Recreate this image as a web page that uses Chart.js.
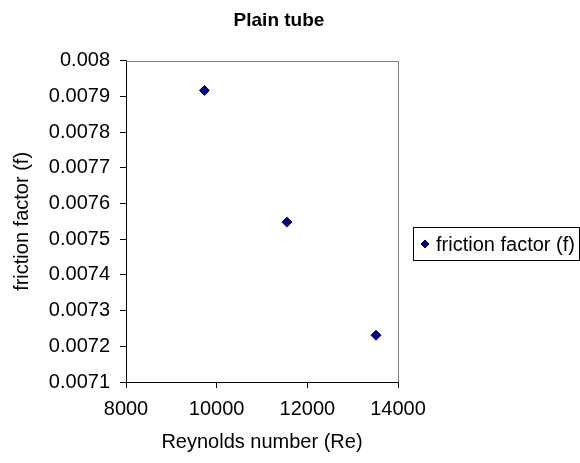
<!DOCTYPE html>
<html>
<head>
<meta charset="utf-8">
<script src="https://cdn.jsdelivr.net/npm/chart.js@4/dist/chart.umd.min.js"></script>
<style>
  html, body { margin: 0; padding: 0; background: #ffffff; }
  #wrap { width: 580px; height: 463px; }
</style>
</head>
<body>
<div id="wrap"><canvas id="c" width="580" height="463"></canvas></div>
<script>
// ---- data ----
const chartTitle = 'Plain tube';
const seriesLabel = 'friction factor (f)';
const xAxisTitle = 'Reynolds number (Re)';
const yAxisTitle = 'friction factor (f)';
const reynolds = [9730, 11550, 13515];
const frictionFactor = [0.007917, 0.007548, 0.007231];
const xTickValues = [8000, 10000, 12000, 14000];
const xTickLabels = ['8000', '10000', '12000', '14000'];
const yTickValues = [0.0071, 0.0072, 0.0073, 0.0074, 0.0075, 0.0076, 0.0077, 0.0078, 0.0079, 0.008];
const yTickLabels = ['0.0071', '0.0072', '0.0073', '0.0074', '0.0075', '0.0076', '0.0077', '0.0078', '0.0079', '0.008'];

const FONT = '"Liberation Sans", Arial, sans-serif';
const NAVY = '#000080';

const points = reynolds.map((x, i) => ({ x: x, y: frictionFactor[i] }));

const framePlugin = {
  id: 'frame',
  beforeDatasetsDraw(chart) {
    const { ctx, chartArea: a } = chart;
    ctx.save();
    ctx.strokeStyle = '#808080';
    ctx.lineWidth = 1;
    ctx.beginPath();
    ctx.moveTo(a.left, Math.round(a.top) + 0.5);
    ctx.lineTo(Math.round(a.right) + 0.5, Math.round(a.top) + 0.5);
    ctx.lineTo(Math.round(a.right) + 0.5, a.bottom);
    ctx.stroke();
    ctx.restore();
  }
};

const boxLegendPlugin = {
  id: 'boxLegend',
  afterDraw(chart) {
    const { ctx } = chart;
    const ds = chart.data.datasets[0];
    const bx = 413.5, by = 227.5, bw = 166, bh = 33;
    ctx.save();
    ctx.strokeStyle = '#000000';
    ctx.lineWidth = 1;
    ctx.strokeRect(bx, by, bw, bh);
    const cy = by + bh / 2;
    const style = { pointStyle: 'rectRot', radius: 4, borderWidth: 1, rotation: 0 };
    ctx.fillStyle = ds.backgroundColor;
    ctx.strokeStyle = ds.borderColor;
    if (Chart.helpers && Chart.helpers.drawPoint) {
      Chart.helpers.drawPoint(ctx, style, 425, cy);
    } else {
      ctx.beginPath();
      ctx.moveTo(425, cy - 4); ctx.lineTo(429, cy); ctx.lineTo(425, cy + 4); ctx.lineTo(421, cy);
      ctx.closePath(); ctx.fill(); ctx.stroke();
    }
    ctx.fillStyle = '#000000';
    ctx.font = '20px ' + FONT;
    ctx.textAlign = 'left';
    ctx.textBaseline = 'middle';
    ctx.fillText(ds.label, 436, cy + 1);
    ctx.restore();
  }
};

new Chart(document.getElementById('c'), {
  type: 'scatter',
  data: {
    datasets: [{
      label: seriesLabel,
      data: points,
      pointStyle: 'rectRot',
      pointRadius: 5,
      pointHoverRadius: 5,
      backgroundColor: NAVY,
      borderColor: NAVY,
      borderWidth: 1,
      showLine: false
    }]
  },
  options: {
    responsive: false,
    animation: false,
    devicePixelRatio: 1,
    layout: { padding: { left: 0, right: 22, top: 0, bottom: 0 } },
    plugins: {
      legend: { display: false },
      tooltip: { enabled: false },
      title: {
        display: true,
        text: chartTitle,
        color: '#000000',
        font: { family: FONT, size: 19, weight: 'bold' },
        padding: { top: 9, bottom: 29 }
      }
    },
    scales: {
      x: {
        type: 'linear',
        min: xTickValues[0],
        max: xTickValues[xTickValues.length - 1],
        afterBuildTicks: s => { s.ticks = xTickValues.map(v => ({ value: v })); },
        afterFit: s => { s.height = 81; },
        ticks: {
          color: '#000000',
          font: { family: FONT, size: 20 },
          padding: 9,
          maxRotation: 0,
          callback: (v, i) => xTickLabels[i]
        },
        grid: { display: true, drawOnChartArea: false, drawTicks: true, tickLength: 6, color: '#000000' },
        border: { display: true, color: '#000000', width: 1 },
        title: {
          display: true,
          text: xAxisTitle,
          color: '#000000',
          font: { family: FONT, size: 20 },
          padding: { top: 0, bottom: 9 }
        }
      },
      y: {
        type: 'linear',
        position: 'left',
        min: yTickValues[0],
        max: yTickValues[yTickValues.length - 1],
        afterBuildTicks: s => { s.ticks = yTickValues.map(v => ({ value: v })); },
        afterFit: s => { s.width = 126; },
        ticks: {
          color: '#000000',
          font: { family: FONT, size: 20 },
          padding: 10,
          callback: (v, i) => yTickLabels[i]
        },
        grid: { display: true, drawOnChartArea: false, drawTicks: true, tickLength: 6, color: '#000000' },
        border: { display: true, color: '#000000', width: 1 },
        title: {
          display: true,
          text: yAxisTitle,
          color: '#000000',
          font: { family: FONT, size: 20 },
          padding: { top: 10, bottom: 0 }
        }
      },
      legendSpace: {
        type: 'linear',
        position: 'right',
        display: true,
        afterFit: s => { s.width = 160; },
        ticks: { display: false },
        grid: { display: false },
        border: { display: false },
        title: { display: false }
      }
    }
  },
  plugins: [framePlugin, boxLegendPlugin]
});
</script>
</body>
</html>
